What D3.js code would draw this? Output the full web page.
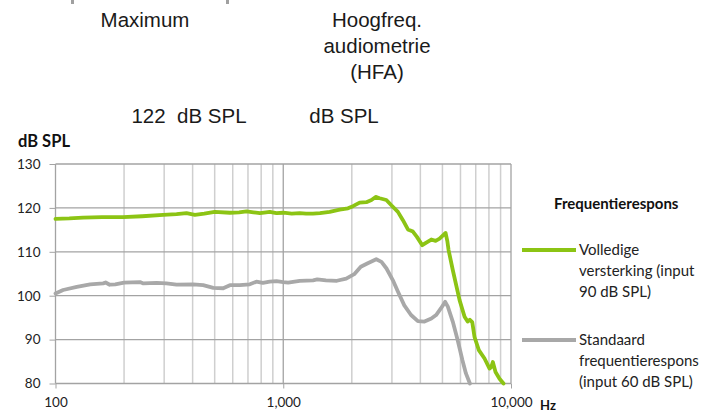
<!DOCTYPE html>
<html><head><meta charset="utf-8">
<script src="https://cdn.jsdelivr.net/npm/d3@7"></script>
<style>body{margin:0;background:#fff}svg{display:block}</style>
</head><body>
<svg id="c" width="704" height="414"></svg>
<script>
// ---- data ----
const greenFreq = [100,115,132,160,198,240,297,340,376,409,450,500,583,640,690,740,790,840,872,934,1000,1090,1181,1260,1351,1450,1599,1769,1924,2024,2165,2317,2440,2545,2650,2836,2983,3188,3353,3527,3709,3863,4077,4247,4467,4666,4858,5161,5251,5320,5554,5945,6254,6450,6600,6757,6916,7223,7652,8050,8200,8323,8551,8904,9271];
const greenVal  = [117.5,117.6,117.8,117.9,117.9,118.1,118.4,118.6,118.8,118.4,118.7,119.1,118.9,119.0,119.2,119.0,118.8,119.0,119.1,118.8,118.9,118.7,118.8,118.7,118.7,118.8,119.1,119.6,119.9,120.4,121.2,121.3,121.8,122.5,122.2,121.8,120.6,119.1,117.2,115.1,114.6,113.4,111.5,112.1,112.8,112.5,113.0,114.3,112.5,110.4,105.8,99.0,95.2,94.1,94.5,94.0,90.6,87.6,85.7,83.4,83.8,84.9,82.6,81.1,80.0];
const grayFreq = [100,108,124,142,162,166,173,183,200,235,243,278,307,340,402,445,493,545,583,644,713,762,814,872,934,1000,1050,1181,1351,1410,1540,1720,1890,2050,2190,2350,2560,2700,2840,3030,3190,3400,3640,3900,4170,4470,4690,4920,5140,5280,5550,5830,6120,6340,6600];
const grayVal  = [100.5,101.3,102.0,102.6,102.8,103.0,102.5,102.6,103.0,103.1,102.8,102.9,102.8,102.5,102.6,102.4,101.8,101.7,102.4,102.4,102.6,103.2,102.9,103.2,103.3,103.1,103.0,103.4,103.5,103.7,103.5,103.4,103.9,104.9,106.6,107.4,108.3,107.7,106.2,103.5,100.9,97.8,95.6,94.2,94.1,94.8,95.6,97.1,98.6,97.5,94.1,89.9,85.3,82.3,80.0];
const yTicks = [80,90,100,110,120,130];
const xMajor = [100,1000,10000];
const xMinor = [200,300,400,500,600,700,800,900,2000,3000,4000,5000,6000,7000,8000,9000];
const seriesNames = [["Volledige","versterking (input","90 dB SPL)"],["Standaard","frequentierespons","(input 60 dB SPL)"]];
const seriesColors = ["#8cc414","#a8a8a8"];
const legendTitle = "Frequentierespons";
const headerTop = [["Maximum"],["Hoogfreq.","audiometrie","(HFA)"]];
const headerBottom = ["122  dB SPL","dB SPL"];

// ---- drawing ----
const svg = d3.select("#c");
const x = d3.scaleLog().domain([100,10000]).range([55.5,511]);
const y = d3.scaleLinear().domain([80,130]).range([383.5,164]);
const tickFont = "Lato, 'Open Sans', sans-serif";
const headFont = "'Liberation Sans', Arial, sans-serif";
const headSize = 20.5;

// faint top marks
svg.append("rect").attr("x",71).attr("y",0).attr("width",3).attr("height",4).attr("fill","#a0a0a0");
svg.append("rect").attr("x",226).attr("y",0).attr("width",3).attr("height",4).attr("fill","#a0a0a0");

// header texts
const hx = [145, 377];
const hy = [27, 53, 79];
headerTop.forEach((lines,i)=>{
  lines.forEach((t,j)=>{
    svg.append("text").attr("x",hx[i]).attr("y",hy[j]).attr("text-anchor","middle")
      .attr("font-family",headFont).attr("font-size",headSize).attr("fill","#1a1a1a").text(t);
  });
});
svg.append("text").attr("x",189).attr("y",123).attr("text-anchor","middle")
  .style("white-space","pre")
  .attr("font-family",headFont).attr("font-size",headSize).attr("fill","#1a1a1a").text(headerBottom[0]);
svg.append("text").attr("x",344).attr("y",123).attr("text-anchor","middle")
  .attr("font-family",headFont).attr("font-size",headSize).attr("fill","#1a1a1a").text(headerBottom[1]);

// grid
const g = svg.append("g");
g.selectAll(".vminor").data(xMinor).join("line")
  .attr("x1",d=>x(d)).attr("x2",d=>x(d)).attr("y1",y(130)).attr("y2",y(80))
  .attr("stroke","#cfcfcf").attr("stroke-width",1.5);
g.selectAll(".hgrid").data(yTicks).join("line")
  .attr("x1",x(100)).attr("x2",x(10000)).attr("y1",d=>y(d)).attr("y2",d=>y(d))
  .attr("stroke","#a3a3a3").attr("stroke-width",1.3);
g.selectAll(".vmajor").data(xMajor).join("line")
  .attr("x1",d=>x(d)).attr("x2",d=>x(d)).attr("y1",y(130)).attr("y2",y(80))
  .attr("stroke","#a3a3a3").attr("stroke-width",1.3);

// axes
const yAxis = d3.axisLeft(y).tickValues(yTicks).tickSize(6).tickPadding(9);
const ya = svg.append("g").attr("transform",`translate(${x(100)},0)`).call(yAxis);
ya.select(".domain").remove();
ya.selectAll("line").attr("stroke","#a3a3a3");
ya.selectAll("text").attr("font-family",tickFont).attr("font-size",13.5).attr("fill","#222");

const xAxis = d3.axisBottom(x).tickValues(xMajor).tickFormat(d3.format(",")).tickSize(5).tickPadding(9);
const xa = svg.append("g").attr("transform",`translate(0,${y(80)})`).call(xAxis);
xa.select(".domain").remove();
xa.selectAll("line").attr("stroke","#a3a3a3");
xa.selectAll("text").attr("font-family",tickFont).attr("font-size",13.5).attr("fill","#222");

svg.append("text").attr("x",18).attr("y",147).attr("font-family",tickFont).attr("font-weight","bold")
  .attr("font-size",16.5).attr("fill","#111").text("dB SPL");
svg.append("text").attr("x",540).attr("y",410).attr("font-family",tickFont).attr("font-weight","bold")
  .attr("font-size",13).attr("fill","#111").text("Hz");

// lines
const line = d3.line().x(d=>x(d[0])).y(d=>y(d[1])).curve(d3.curveLinear);
const series = [d3.zip(grayFreq,grayVal), d3.zip(greenFreq,greenVal)];
const cols = [seriesColors[1], seriesColors[0]];
series.forEach((s,i)=>{
  svg.append("path").attr("d",line(s)).attr("fill","none").attr("stroke",cols[i])
    .attr("stroke-width",3.8).attr("stroke-linejoin","round").attr("stroke-linecap","round");
});

// legend
svg.append("text").attr("x",554).attr("y",209).attr("font-family",tickFont).attr("font-weight","bold")
  .attr("font-size",15).attr("fill","#111").text(legendTitle);
const legY = [250, 340];
seriesNames.forEach((lines,i)=>{
  svg.append("line").attr("x1",522).attr("x2",576).attr("y1",legY[i]).attr("y2",legY[i])
    .attr("stroke",seriesColors[i]).attr("stroke-width",3.8);
  lines.forEach((t,j)=>{
    svg.append("text").attr("x",579).attr("y",legY[i]+5+j*21).attr("font-family",tickFont)
      .attr("font-size",15).attr("fill","#222").text(t);
  });
});
</script>
</body></html>
